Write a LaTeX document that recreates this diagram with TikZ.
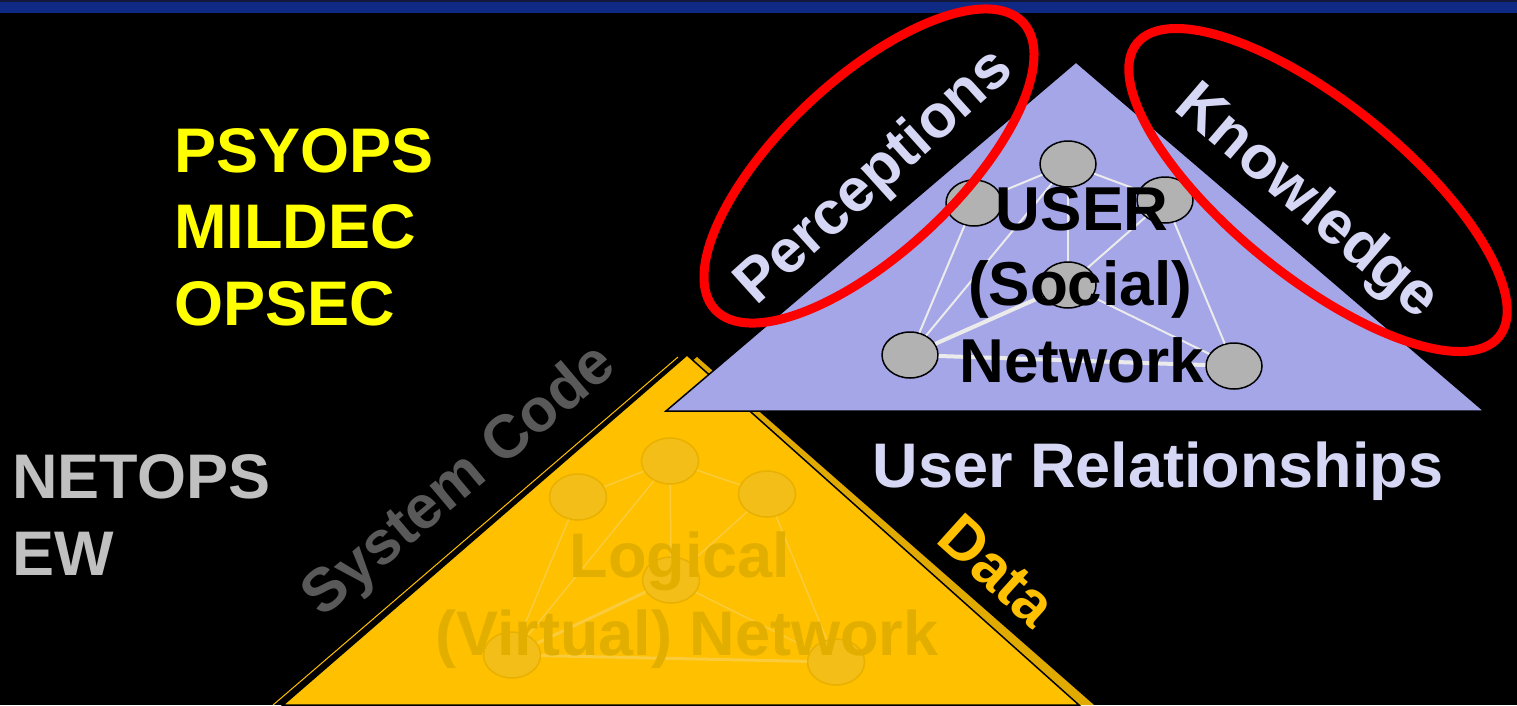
\documentclass[tikz,border=0pt]{standalone}
\usepackage{fontspec}
\setmainfont{Liberation Sans}
\usetikzlibrary{shapes.geometric}
\definecolor{bartop}{RGB}{20,25,60}
\definecolor{barblue}{RGB}{14,42,132}
\definecolor{purp}{RGB}{164,166,232}
\definecolor{lav}{RGB}{214,214,245}
\definecolor{yel}{RGB}{255,192,0}
\definecolor{yelshadow}{RGB}{225,170,0}
\definecolor{yeltext}{RGB}{226,174,0}
\definecolor{yelnode}{RGB}{244,190,24}
\definecolor{yelnodeline}{RGB}{232,176,0}
\definecolor{yelline}{RGB}{250,204,60}
\definecolor{nodegray}{RGB}{178,178,178}
\definecolor{netline}{RGB}{235,235,235}
\definecolor{sysgray}{RGB}{89,89,89}
\definecolor{netgray}{RGB}{192,192,192}
\definecolor{psy}{RGB}{255,255,0}
\definecolor{ringred}{RGB}{255,0,0}
\begin{document}
\begin{tikzpicture}[x=1pt,y=-1pt,
  pnode/.style={ellipse, draw=black, line width=1.5pt, fill=nodegray, minimum width=56pt, minimum height=46pt, inner sep=0pt},
  ynode/.style={ellipse, draw=yelnodeline, line width=1.5pt, fill=yelnode, minimum width=57pt, minimum height=46pt, inner sep=0pt},
  plink/.style={draw=netline, line width=2pt},
  pthick/.style={draw=netline, line width=4pt},
  ylink/.style={draw=yelline, line width=1.5pt},
  ythick/.style={draw=yelline, line width=3pt},
  bigtxt/.style={inner sep=0pt, anchor=base, font=\bfseries\fontsize{63}{63}\selectfont},
  midtxt/.style={inner sep=0pt, anchor=base, font=\bfseries\fontsize{62}{62}\selectfont},
  rottxt/.style={inner sep=0pt, anchor=base, font=\bfseries\fontsize{61}{61}\selectfont},
  ring/.style={ellipse, draw=ringred, line width=9pt, inner sep=0pt}]
\useasboundingbox (0,0) rectangle (1517,705);
\fill[black] (0,0) rectangle (1517,705);
\fill[bartop] (0,0) rectangle (1517,2);
\fill[barblue] (0,2) rectangle (1517,13);

% yellow (logical) triangle
\coordinate (ya) at (687,355);
\coordinate (yl) at (283,705);
\coordinate (yr) at (1079,705);
\fill[yelshadow] (697,357) -- (1094,705) -- (yl) -- cycle;
\draw[yel, line width=1pt] (678,357) -- (273,705);
\filldraw[fill=yel, draw=black, line width=1.5pt] (ya) -- (yr) -- (yl) -- cycle;

% yellow network
\node[ynode] (yT) at (670,461) {};
\node[ynode] (yL) at (578,497) {};
\node[ynode] (yR) at (767,494) {};
\node[ynode] (yC) at (671,580) {};
\node[ynode] (yBL) at (512,655) {};
\node[ynode] (yBR) at (836,662) {};
\path[ylink] (yT) -- (yL);
\path[ylink] (yT) -- (yR);
\path[ylink] (yT) -- (yC);
\path[ylink] (yT) -- (yBL);
\path[ylink] (yL) -- (yBL);
\path[ylink] (yR) -- (yBR);
\path[ylink] (yR) -- (yC);
\path[ythick] (yC) -- (yBL);
\path[ylink] (yC) -- (yBR);
\path[ythick] (yBL) -- (yBR);
\node[bigtxt, text=yeltext] (logA) at (680,577) {Logical};
\node[bigtxt, text=yeltext] (logB) at (687,655) {(Virtual) Network};

% purple (social) triangle
\coordinate (pa) at (1076,62);
\coordinate (pl) at (666,411);
\coordinate (pr) at (1484,411);
\filldraw[fill=purp, draw=black, line width=1.5pt] (pa) -- (pr) -- (pl) -- cycle;

% social network
\node[pnode] (pT) at (1068,164) {};
\node[pnode] (pL) at (974,203) {};
\node[pnode] (pR) at (1165,200) {};
\node[pnode] (pC) at (1068,285) {};
\node[pnode] (pBL) at (910,355) {};
\node[pnode] (pBR) at (1234,366) {};
\path[plink] (pT) -- (pL);
\path[plink] (pT) -- (pR);
\path[plink] (pT) -- (pC);
\path[plink] (pT) -- (pBL);
\path[plink] (pL) -- (pBL);
\path[plink] (pR) -- (pBR);
\path[plink] (pR) -- (pC);
\path[pthick] (pC) -- (pBL);
\path[plink] (pC) -- (pBR);
\path[pthick] (pBL) -- (pBR);
\node[midtxt, text=black] (uA) at (1082,230) {USER};
\node[midtxt, text=black] (uB) at (1080,305) {(Social)};
\node[midtxt, text=black] (uC) at (1082,382) {Network};

% side labels
\node[bigtxt, anchor=base west, text=psy] (psyops) at (174,172) {PSYOPS};
\node[bigtxt, anchor=base west, text=psy] (mildec) at (174,248) {MILDEC};
\node[bigtxt, anchor=base west, text=psy] (opsec) at (174,325) {OPSEC};
\node[bigtxt, anchor=base west, text=netgray] (netops) at (12,498) {NETOPS};
\node[bigtxt, anchor=base west, text=netgray] (ew) at (12,575) {EW};
\node[bigtxt, text=lav] (userrel) at (1158,487) {User Relationships};

% rotated labels
\node[rottxt, text=lav, rotate=42] (perc) at (886,190) {Perceptions};
\node[rottxt, text=lav, rotate=-40.6] (know) at (1296,215) {Knowledge};
\node[rottxt, text=sysgray, rotate=40] (sys) at (471,494) {System Code};
\node[rottxt, text=yel, rotate=-42] (data) at (984,586) {Data};

% red rings
\node[ring, minimum width=421pt, minimum height=174pt, rotate=43] (ringP) at (869,166) {};
\node[ring, minimum width=466pt, minimum height=174pt, rotate=-39] (ringK) at (1318,190) {};
\end{tikzpicture}
\end{document}
